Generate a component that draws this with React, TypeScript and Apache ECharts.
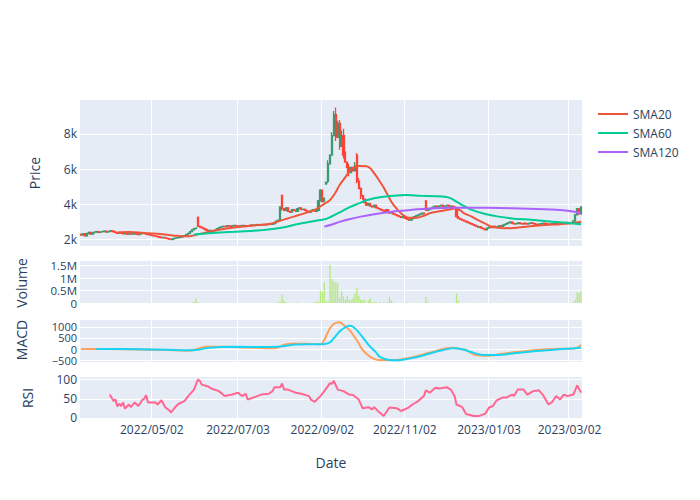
import React, { useEffect, useRef } from 'react';
import * as echarts from 'echarts';

// ---------- data ----------
const START_DATE = [2022, 2, 10]; // 2022-03-10, weekdays only
const DAY_COUNT = 262;
const tickLabels = ['2022/05/02', '2022/07/03', '2022/09/02', '2022/11/02', '2023/01/03', '2023/03/02'];

// daily closes (one per weekday)
const closes = [
  2250, 2330, 2200, 2350, 2410, 2300, 2380, 2420, 2450, 2400, 2430,
  2450, 2480, 2420, 2450, 2500, 2470, 2440, 2400, 2350, 2380, 2360, 2320, 2350, 2300,
  2320, 2300, 2330, 2350, 2300, 2280, 2330, 2360, 2340, 2300, 2280, 2250, 2220, 2200, 2180, 2150, 2120, 2100, 2120, 2080, 2050,
  2020, 2000, 2050, 2080, 2100, 2120, 2150, 2180, 2220, 2280,
  2350, 2450, 2550, 2620, 2650, 2750,
  2700, 2650, 2600, 2550, 2500, 2520, 2480, 2500, 2550,
  2620, 2680, 2720, 2750, 2730, 2780, 2760, 2740, 2780, 2800,
  2770, 2750, 2780, 2800, 2790, 2760, 2780, 2800, 2820, 2800,
  2830, 2850, 2820, 2840, 2860, 2830, 2850, 2880, 2860, 2900,
  2950, 3050, 3100,
  3850,
  3750,
  3650, 3800, 3600, 3550, 3700, 3650, 3600, 3750, 3800, 3700, 3720, 3650, 3600, 3550, 3650, 3700, 3600, 3650,
  4200, 4800, 4150, 4350, 5250,
  6300, 6800, 7900, 9100,
  7800, 8600, 7300, 7900, 6800, 6400, 6100, 5800, 6100, 5900, 6200, 5300, 4900, 4500, 4300,
  4100, 3950, 4050, 3900, 3850, 3950, 3800, 3750, 3700,
  3650, 3600, 3700, 3550, 3500, 3550, 3450,
  3400, 3350, 3300, 3250, 3300, 3200, 3150, 3100, 3120,
  3200, 3300, 3350, 3400, 3450, 3500, 3450,
  3650,
  3700, 3750, 3800, 3850, 3900, 3850, 3900, 3950, 3850, 3900, 3950, 3850, 3900, 3850, 3800,
  3300,
  3200, 3150, 3100, 3050, 3000, 2950, 2900,
  2850, 2800, 2750, 2700, 2720, 2650, 2600, 2550, 2650,
  2700, 2680, 2750, 2700, 2720, 2780, 2750, 2800, 2850,
  2900, 2950, 3000, 2920, 2880, 2900, 2950, 2900, 2880, 2920,
  2900, 2880, 2920, 2950, 2900, 2870, 2850, 2880, 2900, 2930, 2900, 2880, 2850, 2870, 2900, 2920, 2950, 2930, 2900, 2920, 2950, 2970, 2950, 2930, 2950,
  3050, 3400, 3750, 3450, 3850,
];
const firstOpen = 2300;
// days whose open differs from the previous close: [dayIndex, open]
const openGaps = [[61, 3250], [105, 4500], [128, 5150], [129, 5300], [144, 6800], [180, 4200]];
// wick extremes: [dayIndex, value]
const highWicks = [[61, 3300], [105, 4550], [124, 4250], [125, 4850], [128, 5300], [129, 6500], [131, 8100], [132, 9300], [133, 9500], [134, 8750], [135, 8800], [136, 8200], [137, 8300], [138, 7000], [140, 6300], [143, 6400], [144, 6900], [145, 5500], [180, 4250], [196, 3850]];
const lowWicks = [[105, 3650], [129, 5200], [133, 7600], [135, 7100], [137, 6600], [139, 5800], [140, 5600], [144, 5200], [146, 4300], [196, 3250]];

// volume: [dayIndex, volume]
const volumePoints = [
  [5, 15000], [20, 15000], [40, 15000], [58, 30000], [59, 40000], [60, 180000], [61, 30000],
  [103, 40000], [104, 60000], [105, 330000], [106, 100000], [107, 30000], [110, 20000], [113, 30000], [118, 20000],
  [122, 30000], [123, 60000], [124, 40000], [125, 490000], [126, 440000], [127, 820000], [128, 60000], [129, 80000],
  [130, 1520000], [131, 960000], [132, 860000], [133, 820000], [134, 790000], [135, 200000], [136, 490000], [137, 260000],
  [138, 130000], [139, 300000], [140, 130000], [141, 130000], [142, 200000], [143, 370000], [144, 600000], [145, 300000],
  [146, 130000], [147, 100000], [148, 130000], [150, 100000], [151, 200000], [152, 40000], [153, 30000], [154, 40000],
  [156, 30000], [158, 30000], [160, 40000], [161, 250000], [162, 100000], [163, 30000], [170, 20000], [175, 30000],
  [180, 250000], [181, 50000], [190, 20000], [196, 380000], [197, 100000], [205, 20000], [220, 20000], [240, 15000],
  [257, 40000], [258, 130000], [259, 440000], [260, 400000], [261, 490000],
];

// moving averages: [dayIndex, value]
const sma20Points = [
  [19, 2400], [25, 2420], [30, 2400], [35, 2360], [40, 2320], [45, 2270], [50, 2210], [55, 2180], [58, 2210], [62, 2320],
  [66, 2420], [72, 2560], [81, 2700], [90, 2800], [99, 2900], [105, 3100], [111, 3300], [117, 3500], [122, 3680], [126, 3950],
  [130, 4250], [133, 4700], [135, 5100], [138, 5550], [140, 5860], [142, 6050], [145, 6180], [149, 6170], [151, 6050],
  [153, 5770], [156, 5300], [158, 4950], [160, 4550], [162, 4150], [164, 3850], [166, 3600], [168, 3400], [171, 3240],
  [175, 3240], [179, 3350], [182, 3490], [187, 3600], [192, 3700], [195, 3760], [198, 3650], [200, 3490], [204, 3300],
  [207, 3110], [211, 2900], [214, 2740], [218, 2660], [221, 2640], [226, 2660], [232, 2730], [242, 2820], [250, 2870],
  [256, 2920], [261, 3010],
];
const sma60Points = [
  [59, 2290], [70, 2380], [80, 2440], [90, 2500], [100, 2600], [106, 2700], [112, 2850], [119, 3000], [125, 3110],
  [128, 3170], [131, 3320], [134, 3490], [137, 3650], [140, 3830], [145, 4050], [149, 4230], [153, 4350], [158, 4430],
  [165, 4500], [170, 4530], [177, 4490], [185, 4460], [190, 4430], [193, 4340], [196, 4150], [199, 3960], [204, 3680],
  [211, 3450], [218, 3300], [225, 3200], [235, 3120], [242, 3050], [250, 2980], [256, 2920], [261, 2860],
];
const sma120Points = [
  [127, 2730], [131, 2850], [135, 3000], [140, 3150], [146, 3300], [153, 3440], [160, 3550], [166, 3620], [172, 3680],
  [182, 3760], [192, 3800], [200, 3810], [212, 3800], [225, 3770], [242, 3720], [250, 3670], [255, 3620], [258, 3560], [261, 3490],
];

// MACD and signal: [dayIndex, value]
const macdPoints = [
  [0, 0], [15, -5], [30, -20], [45, -40], [56, -75], [60, -20], [65, 100], [75, 100], [85, 70], [95, 40], [100, 30],
  [103, 70], [106, 190], [112, 250], [120, 230], [125, 215], [127, 400], [129, 780], [131, 1050], [133, 1180], [135, 1210],
  [137, 1090], [140, 870], [142, 640], [145, 250], [147, -45], [151, -350], [156, -500], [163, -500], [168, -450],
  [174, -350], [179, -230], [184, -120], [190, 20], [194, 60], [197, 20], [201, -45], [206, -270], [212, -300],
  [219, -230], [226, -150], [235, -70], [243, -15], [250, 10], [258, 30], [261, 180],
];
const signalPoints = [
  [8, 0], [30, -10], [45, -30], [56, -60], [62, -20], [67, 60], [80, 100], [95, 90], [104, 110], [112, 200], [120, 215],
  [126, 215], [130, 300], [132, 490], [135, 790], [138, 980], [140, 1045], [142, 1000], [145, 750], [148, 420], [151, 100],
  [154, -150], [156, -350], [161, -500], [165, -510], [170, -455], [177, -330], [182, -200], [188, -70], [194, 30],
  [199, -15], [204, -150], [210, -270], [217, -275], [226, -190], [234, -120], [243, -60], [251, -5], [256, 20], [261, 60],
];

// RSI: [dayIndex, value]
const rsiPoints = [
  [15, 61], [16, 53], [17, 44], [18, 48], [19, 30], [20, 37], [21, 31], [22, 40], [23, 24], [25, 35], [26, 28], [28, 40],
  [30, 31], [32, 47], [33, 50], [34, 59], [35, 40], [39, 40], [40, 35], [42, 46], [44, 28], [46, 20], [47, 14], [49, 27],
  [51, 37], [54, 44], [56, 57], [59, 74], [60, 87], [61, 100], [62, 97], [63, 87], [66, 83], [68, 77], [72, 70], [75, 57],
  [79, 61], [82, 66], [84, 57], [86, 63], [87, 48], [91, 55], [94, 61], [98, 63], [100, 70], [101, 80], [104, 80], [105, 90],
  [106, 74], [108, 74], [112, 66], [115, 63], [119, 57], [120, 48], [122, 42], [125, 57], [127, 70], [130, 91], [131, 89],
  [132, 97], [134, 74], [137, 70], [140, 61], [142, 60], [145, 48], [147, 25], [150, 28], [152, 22], [153, 28], [155, 18],
  [158, 5], [161, 27], [165, 25], [167, 18], [171, 27], [173, 35], [176, 44], [179, 57], [180, 72], [182, 66], [185, 79],
  [187, 77], [191, 80], [193, 74], [195, 57], [196, 35], [199, 28], [201, 10], [205, 5], [208, 5], [211, 11], [213, 27],
  [215, 31], [217, 46], [220, 53], [222, 53], [225, 61], [226, 57], [228, 74], [231, 74], [233, 61], [236, 70], [239, 72],
  [241, 61], [244, 35], [246, 42], [248, 57], [250, 48], [252, 61], [254, 57], [257, 61], [259, 85], [261, 66],
];

// ---------- helpers ----------
function buildDates(): string[] {
  const out: string[] = [];
  const d = new Date(Date.UTC(START_DATE[0], START_DATE[1], START_DATE[2]));
  while (out.length < DAY_COUNT) {
    const wd = d.getUTCDay();
    if (wd !== 0 && wd !== 6) {
      const y = d.getUTCFullYear();
      const m = String(d.getUTCMonth() + 1).padStart(2, '0');
      const dd = String(d.getUTCDate()).padStart(2, '0');
      out.push(`${y}-${m}-${dd}`);
    }
    d.setUTCDate(d.getUTCDate() + 1);
  }
  return out;
}

const FONT = '"Open Sans", verdana, arial, sans-serif';
const TXT = '#2a3f5f';

export default function App() {
  const ref = useRef<HTMLDivElement>(null);

  useEffect(() => {
    if (!ref.current) return;
    const chart = echarts.init(ref.current, undefined, { renderer: 'svg' });
    const dates = buildDates();

    const tickIdx: Record<number, string> = {};
    tickLabels.forEach((lab) => {
      const iso = lab.replace(/\//g, '-');
      const i = dates.findIndex((d) => d >= iso);
      if (i >= 0) tickIdx[i] = lab;
    });
    const isTick = (i: number) => tickIdx[i] !== undefined;

    const openMap = new Map(openGaps.map((p) => [p[0], p[1]]));
    const highMap = new Map(highWicks.map((p) => [p[0], p[1]]));
    const lowMap = new Map(lowWicks.map((p) => [p[0], p[1]]));
    const candles = closes.map((c, i) => {
      const o = openMap.has(i) ? (openMap.get(i) as number) : i === 0 ? firstOpen : closes[i - 1];
      const h = highMap.has(i) ? (highMap.get(i) as number) : Math.max(o, c);
      const l = lowMap.has(i) ? (lowMap.get(i) as number) : Math.min(o, c);
      return [o, c, l, h];
    });
    const pts = (arr: number[][]) => arr.map((p) => [dates[p[0]], p[1]]);

    const gridBase = { left: 80, right: 118, show: true, backgroundColor: '#E5ECF6', borderWidth: 0, containLabel: false, outerBoundsMode: 'none' };
    const grids = [
      { ...gridBase, top: 100, height: 146 },
      { ...gridBase, top: 261, height: 42 },
      { ...gridBase, top: 320, height: 42 },
      { ...gridBase, top: 377, height: 42 },
    ];

    const xAxes = [0, 1, 2, 3].map((g) => ({
      type: 'category',
      gridIndex: g,
      data: dates,
      boundaryGap: true,
      axisLine: { show: false },
      axisTick: { show: false },
      splitLine: { show: true, interval: (i: number) => isTick(i), lineStyle: { color: '#ffffff', width: 1 } },
      axisLabel: {
        show: g === 3,
        interval: (i: number) => isTick(i),
        formatter: (_v: string, i: number) => tickIdx[i] || '',
        color: TXT,
        fontSize: 12,
        fontFamily: FONT,
        margin: 4,
      },
    }));

    const yBase = (g: number, min: number, max: number, ticks: number[], fmt: (v: number) => string, size: number) => ({
      type: 'value',
      gridIndex: g,
      min,
      max,
      position: 'left',
      axisLine: { show: false },
      axisTick: { show: false, customValues: ticks },
      splitLine: { show: true, lineStyle: { color: '#ffffff', width: 1 } },
      axisLabel: {
        customValues: ticks,
        formatter: fmt,
        color: TXT,
        fontSize: size,
        lineHeight: size - 1,
        fontFamily: FONT,
        margin: 3,
        hideOverlap: false,
        showMinLabel: true,
        showMaxLabel: true,
      },
    });

    const volFmt = (v: number) => (v === 0 ? '0' : `${v / 1000000}M`);
    const macdFmt = (v: number) => (v < 0 ? `\u2212${-v}` : `${v}`);
    const yAxes = [
      yBase(0, 1630, 9930, [2000, 4000, 6000, 8000], (v) => `${v / 1000}k`, 12),
      yBase(1, 0, 1680000, [0, 1000000], volFmt, 11.5),
      yBase(2, -585, 1306, [0, 1000], macdFmt, 11),
      yBase(3, -3, 107, [0, 50, 100], (v) => `${v}`, 12),
      // second label sets so that tightly spaced labels are laid out separately
      yBase(1, 0, 1680000, [500000, 1500000], volFmt, 11.5),
      yBase(2, -585, 1306, [-500, 500], macdFmt, 11),
    ];

    const line = (name: string, data: number[][], color: string, xi: number, smooth: number | boolean) => ({
      name,
      type: 'line',
      xAxisIndex: xi,
      yAxisIndex: xi,
      data: pts(data),
      showSymbol: false,
      symbol: 'none',
      smooth,
      lineStyle: { color, width: 2 },
      itemStyle: { color },
      z: 3,
    });

    const titleText = (text: string, x: number, y: number, rot: number) => ({
      type: 'text',
      x,
      y,
      rotation: rot,
      style: { text, fill: TXT, fontSize: 14, fontFamily: FONT, align: 'center', verticalAlign: 'middle' },
    });

    chart.setOption({
      animation: false,
      backgroundColor: '#ffffff',
      textStyle: { fontFamily: FONT },
      grid: grids,
      xAxis: xAxes,
      yAxis: yAxes,
      legend: {
        data: ['SMA20', 'SMA60', 'SMA120'],
        orient: 'vertical',
        left: 598,
        top: 107,
        padding: 0,
        icon: 'rect',
        itemWidth: 30,
        itemHeight: 2,
        itemGap: 5,
        textStyle: { color: TXT, fontSize: 12, fontFamily: FONT, lineHeight: 14 },
      },
      series: [
        {
          name: 'Price',
          type: 'candlestick',
          xAxisIndex: 0,
          yAxisIndex: 0,
          data: candles,
          barWidth: 1.6,
          barMinWidth: 1.6,
          large: false,
          itemStyle: {
            color: '#3D9970',
            color0: '#FF4136',
            borderColor: '#3D9970',
            borderColor0: '#FF4136',
            borderColorDoji: '#FF4136',
            borderWidth: 1.3,
          },
          z: 2,
        },
        line('SMA20', sma20Points, '#EF553B', 0, 0.3),
        line('SMA60', sma60Points, '#00CC96', 0, 0.3),
        line('SMA120', sma120Points, '#AB63FA', 0, 0.3),
        {
          name: 'Volume',
          type: 'bar',
          xAxisIndex: 1,
          yAxisIndex: 1,
          data: pts(volumePoints),
          barWidth: 1.3,
          itemStyle: { color: '#B6E880' },
        },
        line('MACD', macdPoints, '#FFA15A', 2, 0.3),
        line('Signal', signalPoints, '#19D3F3', 2, 0.3),
        line('RSI', rsiPoints, '#FF6692', 3, false),
      ],
      graphic: [
        titleText('Price', 34, 173, Math.PI / 2),
        titleText('Volume', 21, 283, Math.PI / 2),
        titleText('MACD', 21, 340, Math.PI / 2),
        titleText('RSI', 27, 398, Math.PI / 2),
        titleText('Date', 331, 462, 0),
      ],
    });

    return () => chart.dispose();
  }, []);

  return (
    <div
      ref={ref}
      style={{ position: 'fixed', left: 0, top: 0, width: 700, height: 500, background: '#ffffff' }}
    />
  );
}
